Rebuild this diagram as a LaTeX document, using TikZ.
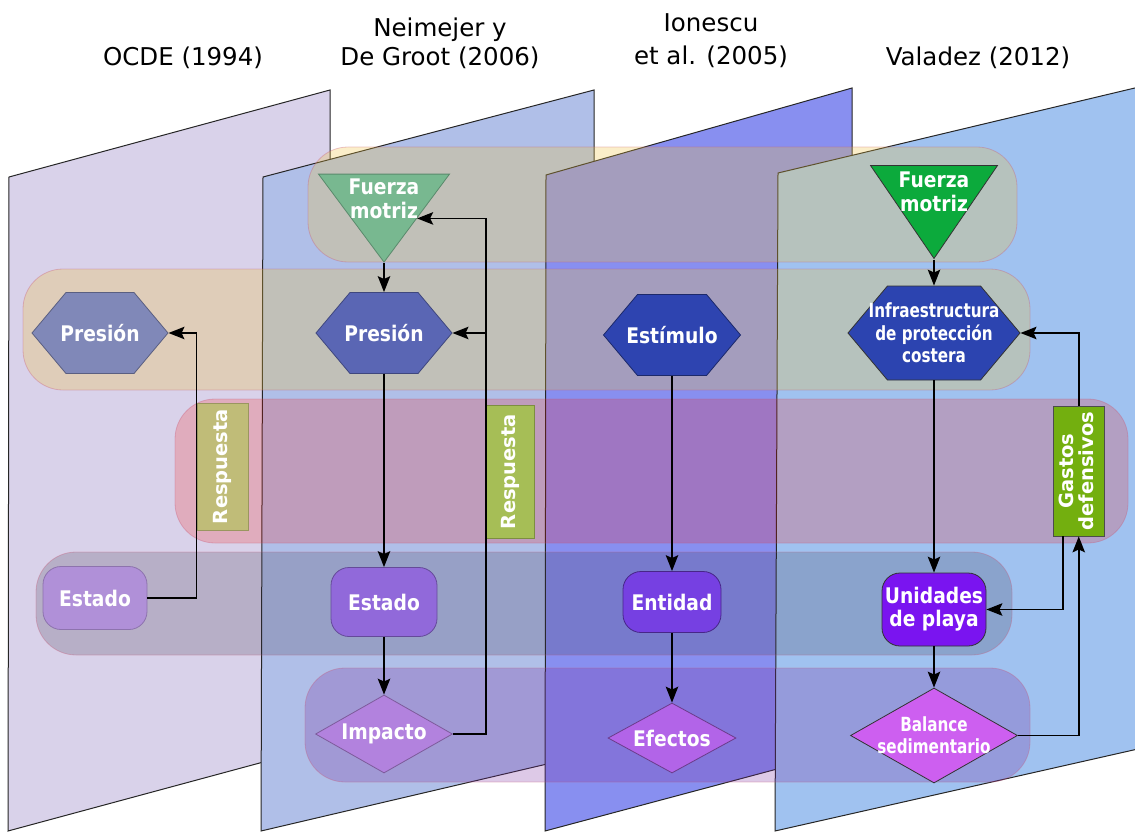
\documentclass[tikz,border=0pt]{standalone}
\usepackage{fontspec}
\setmainfont{DejaVu Sans}
\newfontfamily\nodefont[FakeStretch=0.87]{DejaVu Sans}
\newfontfamily\narrowfont[FakeStretch=0.78]{DejaVu Sans}
\usetikzlibrary{shapes.geometric,shapes.symbols,arrows.meta}

\definecolor{panelA}{RGB}{217,210,234}
\definecolor{panelB}{RGB}{176,191,232}
\definecolor{panelC}{RGB}{136,143,240}
\definecolor{panelD}{RGB}{160,194,240}
\definecolor{bandyellow}{RGB}{240,195,60}
\definecolor{bandred}{RGB}{255,20,10}
\definecolor{bandgrey}{RGB}{60,48,72}
\definecolor{bandviolet}{RGB}{120,40,160}
\definecolor{bandedge}{RGB}{200,90,120}
\definecolor{presA}{RGB}{128,136,184}
\definecolor{estA}{RGB}{176,144,216}
\definecolor{respA}{RGB}{192,188,120}
\definecolor{fuerB}{RGB}{120,184,144}
\definecolor{presB}{RGB}{90,102,180}
\definecolor{estB}{RGB}{145,105,218}
\definecolor{impB}{RGB}{178,130,222}
\definecolor{respB}{RGB}{166,190,86}
\definecolor{estimC}{RGB}{46,68,176}
\definecolor{entC}{RGB}{118,64,226}
\definecolor{efeC}{RGB}{178,100,232}
\definecolor{fuerD}{RGB}{12,170,60}
\definecolor{infD}{RGB}{44,68,176}
\definecolor{uniD}{RGB}{122,20,240}
\definecolor{balD}{RGB}{205,95,240}
\definecolor{gasD}{RGB}{115,175,15}

\tikzset{
  title/.style={font=\fontsize{24.5}{29}\selectfont, align=center, inner sep=0pt},
  panel/.style={draw=black!85, line width=1pt},
  band/.style={draw=bandedge, draw opacity=.35, line width=.8pt, rounded corners=40pt},
  lbl/.style={text=white, font=\nodefont\fontsize{21.5}{24}\selectfont\bfseries, align=center, inner sep=0pt},
  longlbl/.style={lbl, font=\narrowfont\fontsize{19.5}{22.5}\selectfont\bfseries},
  hexa/.style={signal, signal to=west and east, signal pointer angle=100, inner sep=0pt, line width=.8pt},
  rhomb/.style={diamond, inner sep=0pt, line width=.8pt},
  tri/.style={isosceles triangle, shape border rotate=270, isosceles triangle stretches, inner sep=0pt, line width=.8pt},
  rbox/.style={rectangle, rounded corners=18pt, line width=.8pt, inner sep=0pt, text=white, align=center,
    font=\nodefont\fontsize{21.5}{23}\selectfont\bfseries},
  tag/.style={rectangle, line width=.8pt, inner sep=0pt, text=white, font=\fontsize{19.5}{18}\selectfont\bfseries},
  arr/.style={-{Stealth[length=16pt,width=12.5pt,inset=3pt]}, line width=1.5pt},
}

\begin{document}
\begin{tikzpicture}[x=1pt, y=-1pt]
  \useasboundingbox (0,0) rectangle (1135,832);
  \clip (0,0) rectangle (1135,832);

  % titles
  \node[title, anchor=base] (t1) at (183,66) {OCDE (1994)};
  \node[title, anchor=base] (t2) at (440,66) {Neimejer y\\De Groot (2006)};
  \node[title, anchor=base, font=\fontsize{24.5}{33}\selectfont] (t3) at (711,65) {Ionescu\\et al. (2005)};
  \node[title, anchor=base] (t4) at (978,66) {Valadez (2012)};

  % panels
  \filldraw[panel, fill=panelA] (9,177) -- (330,90) -- (330,744) -- (8,831) -- cycle;
  \filldraw[panel, fill=panelB] (263,177) -- (594,90) -- (594,753) -- (261,831) -- cycle;
  \filldraw[panel, fill=panelC] (546,175) -- (852,88) -- (852,749) -- (545,831) -- cycle;
  \filldraw[panel, fill=panelD] (778,173) -- (1160,82) -- (1160,744) -- (775,831) -- cycle;

  % bands
  \filldraw[band, fill=bandyellow, fill opacity=.28] (308,147) rectangle (1017,262);
  \filldraw[band, fill=bandyellow, fill opacity=.28] (23,269) rectangle (1030,390);
  \filldraw[band, fill=bandred, fill opacity=.2] (175,399) rectangle (1128,543);
  \filldraw[band, fill=bandgrey, fill opacity=.21] (36,552) rectangle (1012,655);
  \filldraw[band, fill=bandviolet, fill opacity=.25] (305,668) rectangle (1030,782);

  % OCDE
  \node[hexa, fill=presA, draw=presA!70!black, minimum width=136pt, minimum height=81pt,
    label={[lbl]center:Presión}] (pr1) at (100,333) {};
  \node[rbox, fill=estA, draw=estA!80!black, minimum width=104pt, minimum height=63pt] (es1) at (95,598) {Estado};
  \node[tag, fill=respA, draw=respA!80!black, minimum width=51pt, minimum height=127pt] (rs1) at (222.5,466.5) {\rotatebox{90}{Respuesta}};

  % Neimejer y De Groot
  \node[tri, fill=fuerB, draw=fuerB!75!black, minimum width=131pt, minimum height=88pt,
    label={[lbl, yshift=8pt]center:{Fuerza\\motriz}}] (fm2) at (384,207) {};
  \node[hexa, fill=presB, draw=presB!70!black, minimum width=136pt, minimum height=81pt,
    label={[lbl]center:Presión}] (pr2) at (384,333) {};
  \node[rbox, fill=estB, draw=estB!70!black, minimum width=106pt, minimum height=69pt] (es2) at (384,602) {Estado};
  \node[rhomb, fill=impB, draw=impB!70!black, minimum width=137pt, minimum height=78pt,
    label={[lbl]center:Impacto}] (im2) at (384,734) {};
  \node[tag, fill=respB, draw=respB!75!black, minimum width=48pt, minimum height=133pt] (rs2) at (510.5,471.5) {\rotatebox{90}{Respuesta}};

  % Ionescu et al.
  \node[hexa, fill=estimC, draw=estimC!60!black, minimum width=137pt, minimum height=81pt,
    label={[lbl]center:Estímulo}] (st3) at (672,335) {};
  \node[rbox, fill=entC, draw=entC!60!black, minimum width=98pt, minimum height=61pt] (en3) at (672,602) {Entidad};
  \node[rhomb, fill=efeC, draw=efeC!60!black, minimum width=128pt, minimum height=70pt,
    label={[lbl]center:Efectos}] (ef3) at (672,738) {};

  % Valadez
  \node[tri, fill=fuerD, draw=black!80, minimum width=127pt, minimum height=93pt,
    label={[lbl, yshift=7pt]center:{Fuerza\\motriz}}] (fm4) at (934,199) {};
  \node[hexa, fill=infD, draw=black!80, minimum width=172pt, minimum height=94pt,
    label={[longlbl]center:{Infraestructura\\de protección\\costera}}] (inf) at (934,333) {};
  \node[rbox, fill=uniD, draw=black!80, minimum width=104pt, minimum height=73pt] (un) at (934,609.5) {Unidades\\de playa};
  \node[rhomb, fill=balD, draw=black!80, minimum width=167pt, minimum height=95pt,
    label={[longlbl, font=\narrowfont\fontsize{19.5}{21.7}\selectfont\bfseries]center:{Balance\\sedimentario}}] (bal) at (934,735.5) {};
  \node[tag, fill=gasD, draw=black!70, minimum width=51.5pt, minimum height=130pt] (gd) at (1078.75,471) {\rotatebox{90}{\begin{tabular}{@{}c@{}}Gastos\\defensivos\end{tabular}}};

  % connectors
  \draw[arr] (es1.east) -| (rs1.west) |- (pr1.east);

  \draw[arr] (fm2.apex) -- (pr2.north);
  \draw[arr] (pr2.south) -- (es2.north);
  \draw[arr] (es2.south) -- (im2.north);
  \draw[arr] (im2.east) -| (rs2.west) |- (fm2.left side);
  \draw[arr] (rs2.west) |- (pr2.east);

  \draw[arr] (st3.south) -- (en3.north);
  \draw[arr] (en3.south) -- (ef3.north);

  \draw[arr] (fm4.apex) -- (inf.north);
  \draw[arr] (inf.south) -- (un.north);
  \draw[arr] (un.south) -- (bal.north);
  \draw[arr] (bal.east) -| (gd.south);
  \draw[arr] (gd.north) |- (inf.east);
  \draw[arr] ([xshift=-16pt]gd.south) |- (un.east);
\end{tikzpicture}
\end{document}
